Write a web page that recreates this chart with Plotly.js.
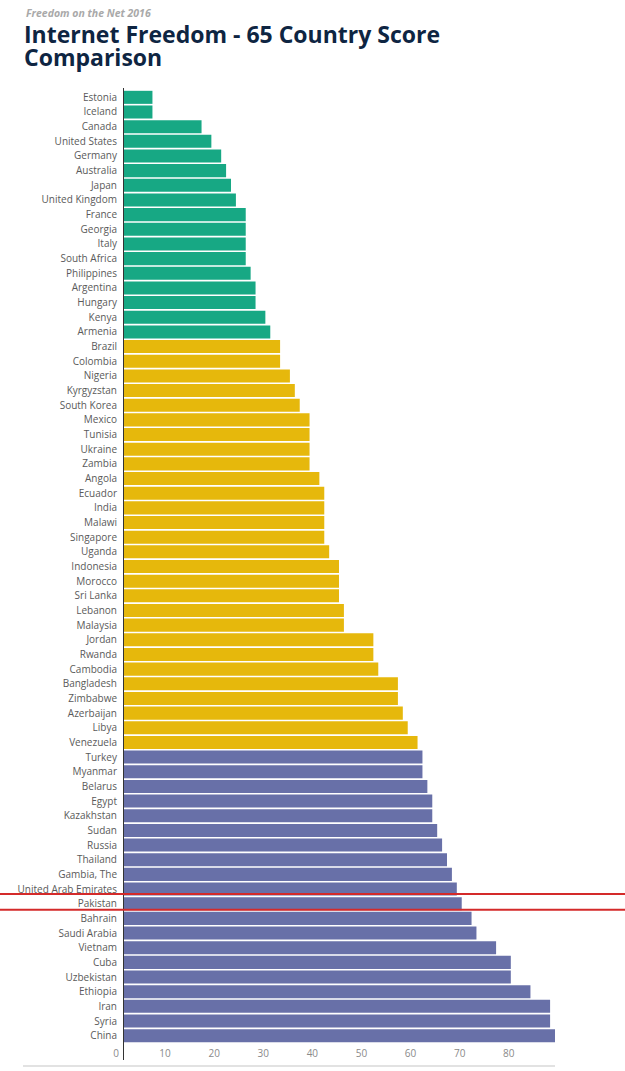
<!DOCTYPE html>
<html>
<head>
<meta charset="utf-8">
<script src="https://cdn.plot.ly/plotly-3.0.1.min.js"></script>
<style>html,body{margin:0;padding:0;background:#fff;}#chart{width:625px;height:1071px;}</style>
</head>
<body>
<div id="chart"></div>
<script>
const countries = ["Estonia","Iceland","Canada","United States","Germany","Australia","Japan","United Kingdom","France","Georgia","Italy","South Africa","Philippines","Argentina","Hungary","Kenya","Armenia","Brazil","Colombia","Nigeria","Kyrgyzstan","South Korea","Mexico","Tunisia","Ukraine","Zambia","Angola","Ecuador","India","Malawi","Singapore","Uganda","Indonesia","Morocco","Sri Lanka","Lebanon","Malaysia","Jordan","Rwanda","Cambodia","Bangladesh","Zimbabwe","Azerbaijan","Libya","Venezuela","Turkey","Myanmar","Belarus","Egypt","Kazakhstan","Sudan","Russia","Thailand","Gambia, The","United Arab Emirates","Pakistan","Bahrain","Saudi Arabia","Vietnam","Cuba","Uzbekistan","Ethiopia","Iran","Syria","China"];
const scores = [6,6,16,18,20,21,22,23,25,25,25,25,26,27,27,29,30,32,32,34,35,36,38,38,38,38,40,41,41,41,41,42,44,44,44,45,45,51,51,52,56,56,57,58,60,61,61,62,63,63,64,65,66,67,68,69,71,72,76,79,79,83,87,87,88];
const xTicks = [0,10,20,30,40,50,60,70,80];
const highlighted = "Pakistan";

const statusColors = {free:"#17a884", partly:"#e6b80c", notfree:"#6870a8"};
const colors = scores.map(s => s <= 30 ? statusColors.free : (s <= 60 ? statusColors.partly : statusColors.notfree));

const W = 625, H = 1071;
const mL = 123, mR = 70, mT = 90, mB = 28;
const plotW = W - mL - mR, plotH = H - mT - mB;
const px2paperX = px => (px - mL) / plotW;
const px2paperY = py => (H - mB - py) / plotH;

const hi = countries.indexOf(highlighted);

const trace = {
  type: "bar",
  orientation: "h",
  y: countries,
  x: scores,
  marker: {color: colors, line: {width: 0}},
  hoverinfo: "y+x"
};

const layout = {
  width: W, height: H,
  margin: {l: mL, r: mR, t: mT, b: mB, pad: 0},
  paper_bgcolor: "#fff", plot_bgcolor: "#fff",
  font: {family: "Open Sans, sans-serif", color: "#555"},
  showlegend: false,
  bargap: 0.11,
  xaxis: {
    range: [0, 88], tickvals: xTicks, ticktext: xTicks.map(String),
    showgrid: false, zeroline: false, showline: false, ticks: "",
    tickfont: {size: 10, color: "#8a8a8a"}, ticklabelshift: -7, ticklabelstandoff: 3,
    fixedrange: true
  },
  yaxis: {
    type: "category", categoryorder: "array", categoryarray: countries,
    range: [countries.length - 0.5, -0.5],
    showgrid: false, zeroline: false, showline: false, ticks: "",
    tickfont: {size: 10, color: "#5a5a5a"}, ticklabelstandoff: 5,
    fixedrange: true
  },
  shapes: [
    {type: "line", xref: "x", yref: "paper", x0: 0, x1: 0, y0: px2paperY(88), y1: px2paperY(1060), line: {color: "#333", width: 2}},
    {type: "line", xref: "paper", yref: "paper", x0: px2paperX(23), x1: 1, y0: px2paperY(1066), y1: px2paperY(1066), line: {color: "#e2e2e2", width: 2}},
    {type: "line", xref: "paper", yref: "y", x0: px2paperX(0), x1: px2paperX(W), y0: hi - 0.67, y1: hi - 0.67, line: {color: "#d42a2a", width: 2}},
    {type: "line", xref: "paper", yref: "y", x0: px2paperX(0), x1: px2paperX(W), y0: hi + 0.42, y1: hi + 0.42, line: {color: "#d42a2a", width: 2}}
  ],
  annotations: [
    {xref: "paper", yref: "paper", x: px2paperX(24), y: px2paperY(13), xanchor: "left", yanchor: "middle", showarrow: false,
     text: "<i>Freedom on the Net 2016</i>", font: {family: "Open Sans", size: 10.5, color: "#a9a9a9", weight: 700}},
    {xref: "paper", yref: "paper", x: px2paperX(22), y: px2paperY(34), xanchor: "left", yanchor: "middle", showarrow: false,
     text: "Internet Freedom - 65 Country Score", font: {family: "Open Sans", size: 23, color: "#0e2542", weight: 700}},
    {xref: "paper", yref: "paper", x: px2paperX(22), y: px2paperY(57), xanchor: "left", yanchor: "middle", showarrow: false,
     text: "Comparison", font: {family: "Open Sans", size: 23, color: "#0e2542", weight: 700}}
  ]
};

Plotly.newPlot("chart", [trace], layout, {displayModeBar: false, staticPlot: true});
</script>
</body>
</html>
